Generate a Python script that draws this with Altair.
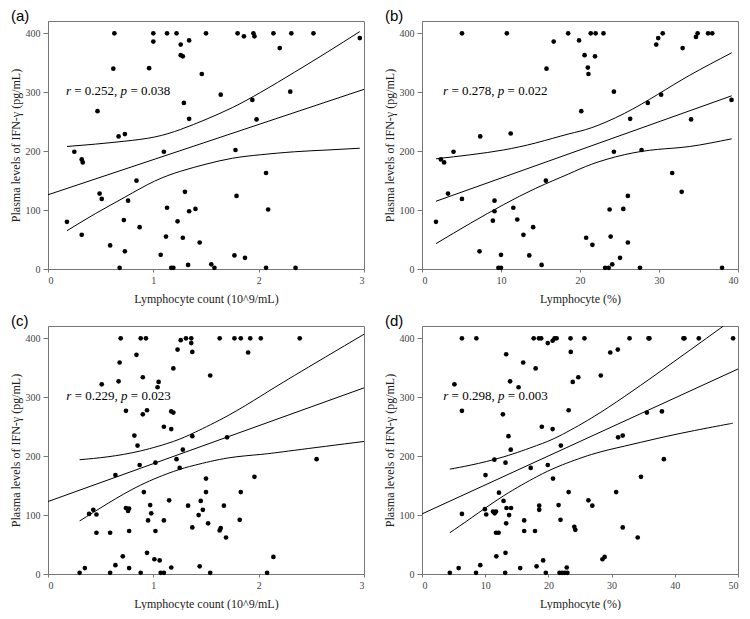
import altair as alt
import pandas as pd

# ---------------- data ----------------
Y_TITLE = "Plasma levels of IFN-γ (pg/mL)"
Y_TICKS = [0, 100, 200, 300, 400]
Y_MAX = 421

# (a) lymphocyte count vs IFN-γ
a_x = [0.18, 0.25, 0.32, 0.33, 0.32, 0.47, 0.49, 0.51, 0.59, 0.63, 0.62, 0.67, 0.73, 0.68, 0.72, 0.73,
       0.76, 0.84, 0.87, 0.96, 1.00, 1.00, 1.10, 1.07, 1.13, 1.13, 1.12, 1.17, 1.19, 1.22, 1.23, 1.26,
       1.26, 1.28, 1.28, 1.29, 1.30, 1.34, 1.34, 1.34, 1.33, 1.40, 1.44, 1.46, 1.50, 1.64, 1.80, 1.86,
       1.95, 1.96, 2.14, 2.31, 2.52, 2.20, 2.96, 2.30, 1.94, 1.98, 1.78, 2.07, 1.79, 2.09, 1.77, 1.87,
       1.55, 1.58, 2.07, 2.35]
a_y = [80, 199, 186, 181, 58, 268, 128, 119, 40, 400, 340, 225, 229, 2, 83, 30,
       116, 150, 71, 341, 400, 386, 199, 24, 400, 104, 55, 2, 2, 400, 81, 381,
       363, 361, 53, 282, 131, 388, 255, 98, 7, 102, 45, 331, 400, 296, 400, 395,
       400, 395, 400, 400, 400, 375, 392, 301, 287, 254, 202, 163, 124, 101, 23, 19,
       8, 2, 2, 2]
a_fit_x = [0, 3]
a_fit_y = [126, 305]
a_ci_x = [0.18, 0.45, 0.73, 1.01, 1.26, 1.50, 1.75, 2.02, 2.34, 2.65, 2.96]
a_ci_up = [208, 212, 217, 224, 237, 254, 274, 300, 334, 368, 403]
a_ci_lo = [65, 94, 122, 149, 166, 178, 188, 194, 199, 202, 205]

# (b) lymphocyte % vs IFN-γ
b_x = [1.77, 2.39, 2.80, 3.99, 3.29, 5.06, 5.06, 7.37, 7.28, 9.18, 9.18, 8.97, 9.67, 10.0, 10.0, 10.74,
       11.23, 11.56, 12.06, 12.84, 14.07, 13.58, 15.14, 15.68, 15.76, 16.67, 18.5,
       19.88, 21.36, 21.98, 22.97, 20.58, 21.90, 20.99, 21.07, 20.16, 24.29, 26.35, 28.58, 30.27, 29.65,
       29.90, 30.47, 32.99, 34.68, 34.89, 36.21, 36.74, 39.18, 34.06, 24.29, 27.79, 31.67, 32.87, 26.06,
       23.75, 25.48, 20.78, 21.57, 23.88, 26.06, 25.07, 23.18, 23.63, 24.08, 27.59, 37.98]
b_y = [80, 186, 181, 199, 128, 400, 119, 225, 30, 116, 98, 82, 2, 2, 24, 400,
       230, 104, 84, 58, 71, 23, 7, 150, 340, 386, 400,
       388, 400, 400, 400, 363, 361, 342, 331, 268, 301, 255, 282, 296, 381,
       392, 400, 375, 394, 400, 400, 400, 287, 254, 199, 202, 163, 131, 124,
       101, 102, 53, 41, 55, 45, 19, 2, 2, 8, 2, 2]
b_fit_x = [1.77, 39.2]
b_fit_y = [115, 294]
b_ci_x = [1.77, 6.17, 10.29, 14.4, 18.5, 21.5, 25.6, 29.8, 33.9, 39.2]
b_ci_up = [187, 194, 202, 214, 229, 240, 264, 296, 329, 367]
b_ci_lo = [43, 78, 109, 137, 161, 178, 194, 203, 208, 221]

# (c) lymphocyte count vs IFN-γ
c_x = [0.30, 0.35, 0.39, 0.43, 0.46, 0.46, 0.51, 0.59, 0.59, 0.64, 0.64, 0.67, 0.68, 0.69, 0.71, 0.74,
       0.74, 0.77, 0.76, 0.77, 0.77, 0.82, 0.84, 0.85, 0.87, 0.88, 0.88, 0.90, 0.90, 0.91, 0.93, 0.94,
       0.94, 0.95, 0.97, 0.98, 1.01, 1.02, 1.02, 1.04, 1.05, 1.06, 1.07, 1.10, 1.10, 1.10, 1.15, 1.17,
       1.17, 1.19, 1.19, 1.17, 1.22, 1.23, 1.25, 1.26, 1.28, 1.31, 1.33, 1.36, 1.36, 1.37, 1.37, 1.37,
       1.43, 1.44, 1.45, 1.47, 1.50, 1.50,
       1.54, 1.52, 1.54, 1.63, 1.77, 1.83, 1.92, 2.02, 2.39, 1.90, 1.70, 1.63, 1.64, 1.69, 1.67, 1.83,
       1.82, 1.96, 2.55, 2.14, 2.08]
c_y = [2, 10, 102, 109, 101, 70, 322, 70, 2, 168, 15, 327, 359, 400, 30, 277,
       112, 111, 107, 73, 10, 235, 372, 218, 185, 400, 2, 334, 271, 139, 400, 278,
       36, 91, 117, 103, 25, 73, 189, 317, 326, 23, 2, 2, 250, 91, 125, 246,
       276, 274, 349, 11, 195, 381, 180, 397, 211, 400, 116, 400, 392, 377, 234, 79,
       100, 13, 124, 109, 162, 139,
       337, 86, 2, 400, 400, 400, 400, 400, 400, 376, 232, 74, 78, 62, 116, 139,
       92, 165, 195, 29, 2]
c_fit_x = [0, 3]
c_fit_y = [123, 316]
c_ci_x = [0.30, 0.57, 0.88, 1.19, 1.40, 1.71, 2.02, 2.34, 3.0]
c_ci_up = [194, 199, 209, 225, 241, 269, 302, 337, 407]
c_ci_lo = [90, 120, 151, 174, 185, 197, 203, 210, 225]

# (d) lymphocyte % vs IFN-γ
d_x = [4.40, 5.13, 5.80, 6.32, 6.32, 6.32, 8.60, 8.55, 9.22, 9.95, 10.05, 10.16, 11.24, 11.50, 11.71, 11.45,
       11.71, 12.12, 11.76, 12.18, 12.80, 12.90, 13.21, 13.32, 13.37, 13.32, 13.21, 13.16, 13.68, 13.78, 13.94, 14.09,
       14.04, 15.28, 15.54, 16.01, 16.17, 16.17, 17.20, 17.67, 17.98, 17.88, 18.13, 18.50, 18.86, 18.55, 18.55, 18.96,
       19.17, 19.59, 19.90, 19.90, 20.67, 20.98, 21.30, 20.67, 20.73, 21.61, 21.92, 21.97, 21.76, 22.18, 22.59, 23.01,
       22.9, 23.2, 23.2,
       23.5, 23.54, 23.85, 24.73, 24.1, 24.26, 25.7, 26.33, 26.95, 28.29, 28.55, 28.9, 29.79, 30.98, 30.72, 31.03,
       31.76, 31.76, 32.84, 34.13, 34.65, 35.58, 35.84, 35.99, 37.96, 38.27, 41.37, 41.52, 43.8, 49.22]
d_y = [2, 322, 10, 400, 277, 102, 400, 2, 15, 110, 168, 101, 106, 103, 106, 194,
       70, 70, 30, 138, 271, 124, 189, 86, 112, 373, 36, 2, 234, 100, 327, 112,
       211, 317, 10, 359, 91, 73, 180, 400, 349, 73, 13, 400, 400, 116, 109, 250,
       23, 2, 392, 185, 396, 400, 400, 246, 162, 117, 92, 218, 2, 2, 2, 2,
       11, 278, 139,
       400, 377, 326, 334, 80, 75, 400, 125, 116, 337, 25, 29, 376, 381, 139, 232,
       235, 79, 400, 62, 165, 274, 400, 400, 276, 195, 400, 400, 400, 400]
d_fit_x = [0, 50]
d_fit_y = [102, 348]
d_ci_x = [4.4, 7.77, 12.95, 18.13, 21.68, 26.85, 32.0, 37.2, 42.4, 47.7]
d_ci_up = [178, 185, 199, 218, 234, 265, 301, 340, 380, 421]
d_ci_lo = [70, 95, 133, 165, 183, 203, 217, 230, 242, 253]
d_ci_lo_end_x = [49.2]
d_ci_lo_end_y = [256]

stats = {
    "a": ("0.252", "0.038", 0.17),
    "b": ("0.278", "0.022", 2.67),
    "c": ("0.229", "0.023", 0.174),
    "d": ("0.298", "0.003", 3.37),
}

W, H = 316, 248
SERIF = "Liberation Serif"


def panel(tag, xs, ys, fx, fy, cx, cu, cl, xmax, xstep, xtitle, st, extra_lo=None):
    r_txt, p_txt, ann_x = st
    pts = pd.DataFrame({"x": xs, "y": ys})
    lo_x = list(cx)
    lo_y = list(cl)
    if extra_lo:
        lo_x += extra_lo[0]
        lo_y += extra_lo[1]
    lines = pd.DataFrame({
        "x": list(fx) + list(cx) + lo_x,
        "y": list(fy) + list(cu) + lo_y,
        "k": ["fit"] * len(fx) + ["upper"] * len(cx) + ["lower"] * len(lo_x),
    })
    xenc = alt.X("x:Q", scale=alt.Scale(domain=[0, xmax], nice=False, zero=False),
                 axis=alt.Axis(values=list(range(0, xmax + 1, xstep)), title=xtitle, format="d"))
    yenc = alt.Y("y:Q", scale=alt.Scale(domain=[0, Y_MAX], nice=False, zero=False),
                 axis=alt.Axis(values=Y_TICKS, title=Y_TITLE, format="d"))
    line_layer = alt.Chart(lines).mark_line(color="black", strokeWidth=1, interpolate="natural",
                                            clip=True).encode(x=xenc, y=yenc, detail="k:N")
    pts_layer = alt.Chart(pts).mark_circle(size=22, color="black", opacity=1).encode(x=xenc, y=yenc)
    ann = pd.DataFrame({"x": [ann_x], "y": [302]})
    segs = [("r", "italic", 0), ("= " + r_txt + ",", "normal", 8.3),
            ("p", "italic", 54.7), ("= " + p_txt, "normal", 64.5)]
    texts = [
        alt.Chart(ann).mark_text(text=t, fontStyle=fs, dx=dx, align="left", baseline="middle",
                                 font=SERIF, fontSize=13, color="black").encode(x=xenc, y=yenc)
        for t, fs, dx in segs
    ]
    tag_layer = alt.Chart(pd.DataFrame({"t": [tag]})).mark_text(
        align="left", baseline="middle", font="Liberation Sans", fontSize=15, color="black"
    ).encode(text="t:N", x=alt.value(-37), y=alt.value(-5))
    return alt.layer(line_layer, pts_layer, *texts, tag_layer).properties(width=W, height=H)


pa = panel("(a)", a_x, a_y, a_fit_x, a_fit_y, a_ci_x, a_ci_up, a_ci_lo, 3, 1,
           "Lymphocyte count (10^9/mL)", stats["a"])
pb = panel("(b)", b_x, b_y, b_fit_x, b_fit_y, b_ci_x, b_ci_up, b_ci_lo, 40, 10,
           "Lymphocyte (%)", stats["b"])
pc = panel("(c)", c_x, c_y, c_fit_x, c_fit_y, c_ci_x, c_ci_up, c_ci_lo, 3, 1,
           "Lymphocyte count (10^9/mL)", stats["c"])
pd_ = panel("(d)", d_x, d_y, d_fit_x, d_fit_y, d_ci_x, d_ci_up, d_ci_lo, 50, 10,
            "Lymphocyte (%)", stats["d"], extra_lo=(d_ci_lo_end_x, d_ci_lo_end_y))

chart = alt.vconcat(
    alt.hconcat(pa, pb, spacing=17),
    alt.hconcat(pc, pd_, spacing=17),
    spacing=8,
).properties(
    padding=0, background="white"
).configure_view(
    stroke="#777", strokeWidth=1
).configure_axis(
    grid=False, domainColor="#777", tickColor="#777",
    labelFont=SERIF, labelFontSize=10, labelColor="#444", labelPadding=3,
    titleFont=SERIF, titleFontSize=12, titleFontWeight="normal", titleColor="#222",
).configure_axisX(
    tickSize=3, titlePadding=8
).configure_axisY(
    tickSize=5, titlePadding=3
)

chart.save("out.html", embed_options={"renderer": "svg", "actions": False})
